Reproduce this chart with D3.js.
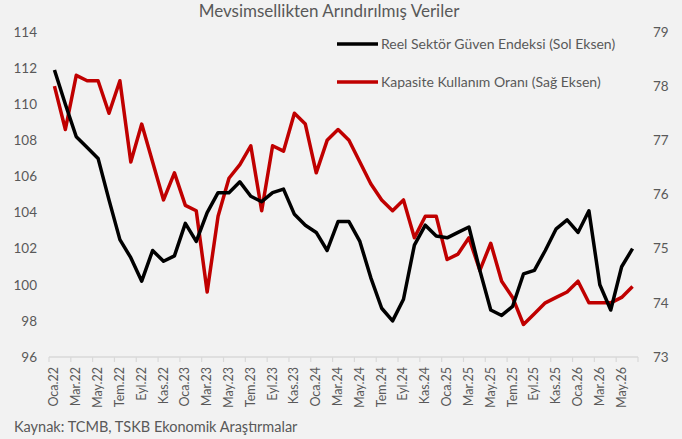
<!DOCTYPE html>
<html>
<head>
<meta charset="utf-8">
<script src="https://cdn.jsdelivr.net/npm/d3@7"></script>
<style>
  body { margin: 0; background: #f2f2f2; }
  text { font-family: Lato, "Open Sans", sans-serif; fill: #595959; }
</style>
</head>
<body>
<div id="chart"></div>
<script>
// months Oca.22 .. Haz.26
const monthNames = ["Oca", "Şub", "Mar", "Nis", "May", "Haz", "Tem", "Ağu", "Eyl", "Eki", "Kas", "Ara"];
const months = [];
for (let y = 22; y <= 26; y++) {
  for (let m = 0; m < 12; m++) {
    if (y === 26 && m > 5) break;
    months.push(monthNames[m] + "." + y);
  }
}

// Reel Sektör Güven Endeksi (left axis)
const rkgeValues = [
  111.9, 110.0, 108.2, 107.6, 107.0, 104.7, 102.5, 101.5, 100.2, 101.9, 101.3, 101.6,
  103.4, 102.4, 104.0, 105.1, 105.1, 105.7, 104.9, 104.6, 105.1, 105.3, 103.9, 103.3,
  102.9, 101.9, 103.5, 103.5, 102.4, 100.4, 98.7, 98.0, 99.2, 102.2, 103.3, 102.7,
  102.6, 102.9, 103.2, 100.8, 98.6, 98.3, 98.8, 100.6, 100.8, 101.9, 103.1, 103.6,
  102.9, 104.1, 100.0, 98.6, 101.0, 102.0
];

// Kapasite Kullanım Oranı (right axis)
const kkoValues = [
  78.0, 77.2, 78.2, 78.1, 78.1, 77.5, 78.1, 76.6, 77.3, 76.6, 75.9, 76.4,
  75.8, 75.7, 74.2, 75.6, 76.3, 76.55, 76.9, 75.7, 76.9, 76.8, 77.5, 77.3,
  76.4, 77.0, 77.2, 77.0, 76.6, 76.2, 75.9, 75.7, 75.9, 75.2, 75.6, 75.6,
  74.8, 74.9, 75.2, 74.6, 75.1, 74.4, 74.1, 73.6, 73.8, 74.0, 74.1, 74.2,
  74.4, 74.0, 74.0, 74.0, 74.1, 74.3
];

const leftTicks = [96, 98, 100, 102, 104, 106, 108, 110, 112, 114];
const rightTicks = [73, 74, 75, 76, 77, 78, 79];

const w = 682, h = 439;
const plotLeft = 49, plotRight = 638, plotTop = 32, plotBottom = 357;

const svg = d3.select("#chart").append("svg")
  .attr("width", w)
  .attr("height", h);

svg.append("rect").attr("width", w).attr("height", h).attr("fill", "#f2f2f2");

const x = d3.scaleBand().domain(months).range([plotLeft, plotRight]);
const yL = d3.scaleLinear().domain([96, 114]).range([plotBottom, plotTop]);
const yR = d3.scaleLinear().domain([73, 79]).range([plotBottom, plotTop]);

// title
svg.append("text")
  .attr("x", 329).attr("y", 17)
  .attr("text-anchor", "middle")
  .style("font-size", "17px")
  .text("Mevsimsellikten Arındırılmış Veriler");

// left axis labels
const gL = svg.append("g")
  .attr("transform", `translate(${plotLeft - 12},0)`)
  .call(d3.axisLeft(yL).tickValues(leftTicks).tickSize(0).tickPadding(0));
gL.select(".domain").remove();
gL.selectAll("text").style("font-size", "13.5px").attr("fill", null);
gL.attr("font-family", null);

// right axis labels
const gR = svg.append("g")
  .attr("transform", `translate(${plotRight + 15},0)`)
  .call(d3.axisRight(yR).tickValues(rightTicks).tickFormat(d3.format("d")).tickSize(0).tickPadding(0));
gR.select(".domain").remove();
gR.selectAll("text").style("font-size", "13.5px").attr("fill", null);
gR.attr("font-family", null);

// x axis
const xAxis = svg.append("g").attr("transform", `translate(0,${plotBottom})`);
xAxis.append("line")
  .attr("x1", plotLeft).attr("x2", plotRight)
  .attr("stroke", "#d9d9d9").attr("stroke-width", 1.5);
xAxis.selectAll(".tk")
  .data(months.filter((d, i) => i % 2 === 0).concat(["end"]))
  .enter().append("line")
  .attr("x1", d => d === "end" ? plotRight : x(d))
  .attr("x2", d => d === "end" ? plotRight : x(d))
  .attr("y1", 0).attr("y2", 5)
  .attr("stroke", "#d9d9d9").attr("stroke-width", 1.2);
xAxis.selectAll(".lbl")
  .data(months.filter((d, i) => i % 2 === 0))
  .enter().append("text")
  .attr("transform", d => `translate(${x(d) + x.bandwidth() / 2 + 4},10) rotate(-90)`)
  .attr("text-anchor", "end")
  .style("font-size", "12.5px")
  .text(d => d);

// lines
const lineL = d3.line()
  .x((d, i) => x(months[i]) + x.bandwidth() / 2)
  .y(d => yL(d));
const lineR = d3.line()
  .x((d, i) => x(months[i]) + x.bandwidth() / 2)
  .y(d => yR(d));

svg.append("path")
  .attr("d", lineR(kkoValues))
  .attr("fill", "none")
  .attr("stroke", "#c00000")
  .attr("stroke-width", 3.5)
  .attr("stroke-linejoin", "round");

svg.append("path")
  .attr("d", lineL(rkgeValues))
  .attr("fill", "none")
  .attr("stroke", "#000")
  .attr("stroke-width", 3.5)
  .attr("stroke-linejoin", "round");

// legend
const legend = [
  { name: "Reel Sektör Güven Endeksi (Sol Eksen)", color: "#000", y: 44 },
  { name: "Kapasite Kullanım Oranı (Sağ Eksen)", color: "#c00000", y: 82 }
];
const lg = svg.append("g");
lg.selectAll("line").data(legend).enter().append("line")
  .attr("x1", 337).attr("x2", 378)
  .attr("y1", d => d.y).attr("y2", d => d.y)
  .attr("stroke", d => d.color).attr("stroke-width", 3.5);
lg.selectAll("text").data(legend).enter().append("text")
  .attr("x", 381).attr("y", d => d.y)
  .attr("dy", "0.35em")
  .style("font-size", "14px")
  .text(d => d.name);

// source
svg.append("text")
  .attr("x", 14).attr("y", 432)
  .style("font-size", "14.5px")
  .text("Kaynak: TCMB, TSKB Ekonomik Araştırmalar");
</script>
</body>
</html>
